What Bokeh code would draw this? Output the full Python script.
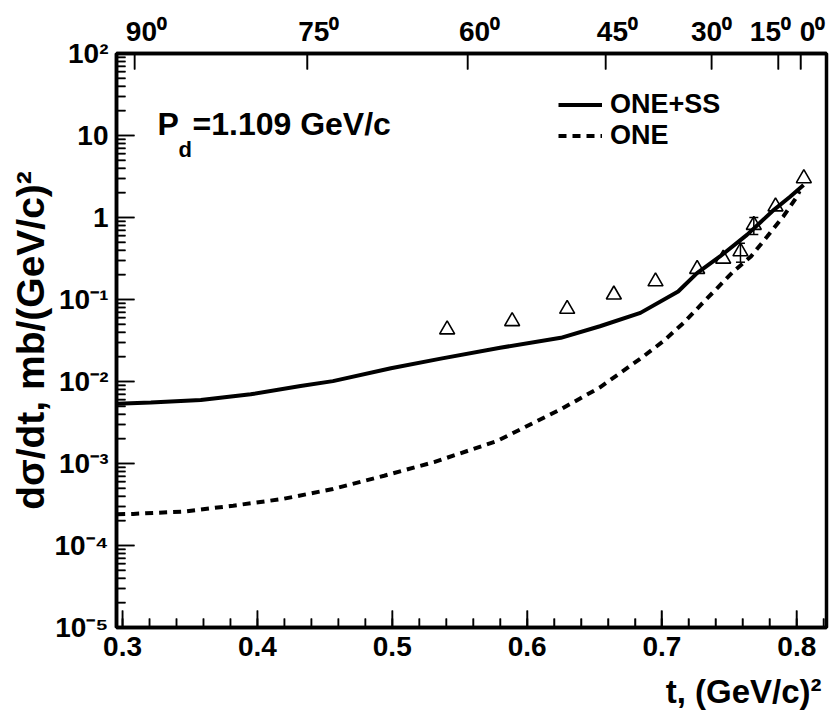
import math
import numpy as np
from bokeh.plotting import figure
from bokeh.models import (ColumnDataSource, FixedTicker, LinearAxis, LogAxis, Label, Legend, Title,
                          LegendItem, Whisker, TeeHead, CustomJSTickFormatter)
from bokeh.embed import file_html
from bokeh.resources import INLINE

# ---------------- data ----------------
t_one_ss = [0.296, 0.321, 0.358, 0.395, 0.432, 0.456, 0.499, 0.536, 0.580, 0.625,
            0.654, 0.684, 0.712, 0.726, 0.743, 0.763, 0.783, 0.795, 0.805]
y_one_ss = [5.35e-3, 5.53e-3, 5.95e-3, 6.98e-3, 8.81e-3, 1.01e-2, 1.45e-2, 1.90e-2, 2.58e-2, 3.41e-2,
            4.72e-2, 6.87e-2, 0.125, 0.210, 0.335, 0.614, 1.24, 1.79, 2.49]

t_one = [0.296, 0.308, 0.345, 0.382, 0.419, 0.456, 0.494, 0.531, 0.578, 0.625, 0.654,
         0.684, 0.701, 0.716, 0.729, 0.741, 0.753, 0.766, 0.778, 0.790, 0.800, 0.802]
y_one = [2.40e-4, 2.43e-4, 2.59e-4, 3.06e-4, 3.70e-4, 4.89e-4, 7.10e-4, 1.04e-3, 1.89e-3, 4.59e-3, 8.49e-3,
         1.90e-2, 3.10e-2, 5.19e-2, 8.67e-2, 0.138, 0.220, 0.335, 0.586, 1.03, 1.79, 2.10]

t_exp = [0.5407, 0.5889, 0.6297, 0.6643, 0.6952, 0.7261, 0.7454, 0.7582, 0.7681, 0.7842, 0.8052]
y_exp = [0.043, 0.0543, 0.0767, 0.1146, 0.166, 0.235, 0.314, 0.385, 0.81, 1.36, 3.0]
e_exp = [0, 0, 0, 0, 0, 0, 0, 0.10, 0.19, 0, 0]

x_ticks = [0.3, 0.4, 0.5, 0.6, 0.7, 0.8]
y_ticks = [1e-5, 1e-4, 1e-3, 1e-2, 1e-1, 1.0, 10.0, 100.0]
y_tick_labels = ["10⁻⁵", "10⁻⁴", "10⁻³", "10⁻²", "10⁻¹", "1", "10", "10²"]
angle_deg = [90, 75, 60, 45, 30, 15, 0]               # top axis: c.m. angle
angle_tick_labels = ["90⁰", "75⁰", "60⁰", "45⁰", "30⁰", "15⁰", "0⁰"]
T_AT_0DEG = 0.803                                     # t at theta = 0
T_SPAN_90 = 0.494                                     # t(0) - t(90)

x_title = "t, (GeV/c)²"
y_title = "dσ/dt, mb/(GeV/c)²"
series_names = ["ONE+SS", "ONE"]

# ---------------- style ----------------
FONT = "Liberation Sans"
X0, X1 = 0.2955, 0.822
Y0, Y1 = 1e-5, 1e2
FL, FR, FT, FB = 116, 4, 53, 92
W, H = 830, 721
FRAME_W, FRAME_H = W - FL - FR, H - FT - FB
DX_PX = (X1 - X0) / FRAME_W                              # data units per pixel (x)
DLOG_PX = (math.log10(Y1) - math.log10(Y0)) / FRAME_H    # decades per pixel (y)
FIG_SP, PUNC_SP = "\u2007", "\u2008"
top_pad = [(FIG_SP + PUNC_SP, ""), (FIG_SP + PUNC_SP, ""), (FIG_SP + PUNC_SP, ""),
           (FIG_SP + PUNC_SP, ""), ("", ""), ("", FIG_SP), (FIG_SP + PUNC_SP, "")]

p = figure(width=W, height=H, x_range=(X0, X1), y_range=(Y0, Y1),
           y_axis_type="log", output_backend="svg", toolbar_location=None,
           min_border_left=FL, min_border_right=FR, min_border_top=FT, min_border_bottom=FB)
p.grid.visible = False
p.outline_line_color = "black"
p.outline_line_width = 3.5
p.background_fill_color = None
p.border_fill_color = None

EMPTY = CustomJSTickFormatter(code="return ''")


def fmt(values, labels):
    return CustomJSTickFormatter(args=dict(tv=values, tl=labels), code="""
        for (let i = 0; i < tv.length; i++) {
            if (Math.abs(tick - tv[i]) <= 1e-6 * Math.abs(tv[i])) return tl[i];
        }
        return "";
    """)


def tick_axis(ax, major_in, minor_in):
    """axis nearest to the frame: inner ticks only"""
    ax.axis_line_width = 3.5
    ax.major_tick_in, ax.major_tick_out = major_in, 0
    ax.minor_tick_in, ax.minor_tick_out = minor_in, 0
    ax.major_tick_line_width = 1.5
    ax.minor_tick_line_width = 1.5
    ax.formatter = EMPTY
    ax.major_label_text_font_size = "1px"
    ax.major_label_text_color = None
    ax.major_label_standoff = 0


def label_axis(ax, standoff, size="28px"):
    """axis that draws only the labels"""
    ax.axis_line_color = None
    ax.major_tick_in = ax.major_tick_out = 0
    ax.minor_tick_in = ax.minor_tick_out = 0
    ax.major_tick_line_color = None
    ax.minor_tick_line_color = None
    ax.major_label_text_font = FONT
    ax.major_label_text_font_style = "bold"
    ax.major_label_text_font_size = size
    ax.major_label_text_color = "black"
    ax.major_label_standoff = standoff


x_minor = list(np.round(np.arange(0.30, 0.8201, 0.02), 3))
y_minor = [m * v for v in y_ticks[:-1] for m in range(2, 10)]
x_ticker = FixedTicker(ticks=x_ticks, minor_ticks=x_minor)
y_ticker = FixedTicker(ticks=y_ticks, minor_ticks=y_minor)
angle_t = [T_AT_0DEG - T_SPAN_90 * (1 - math.cos(math.radians(a))) for a in angle_deg]
a_ticker = FixedTicker(ticks=angle_t, minor_ticks=[])

# tick axes (nearest to the frame)
p.xaxis[0].ticker = x_ticker
tick_axis(p.xaxis[0], 17, 9)
p.yaxis[0].ticker = y_ticker
tick_axis(p.yaxis[0], 18, 9)
ta = LinearAxis(ticker=a_ticker)
tick_axis(ta, 16, 0)
p.add_layout(ta, "above")

# label axes
xl = LinearAxis(ticker=x_ticker)
label_axis(xl, 9)
p.add_layout(xl, "below")
p.add_layout(Title(text=x_title, align="right", offset=5, standoff=24, text_font=FONT,
                   text_font_style="bold", text_font_size="33px", text_color="black"), "below")

yl = LogAxis(ticker=y_ticker, formatter=fmt(y_ticks, y_tick_labels))
label_axis(yl, 8)
yl.axis_label = y_title
yl.axis_label_text_font = FONT
yl.axis_label_text_font_style = "bold"
yl.axis_label_text_font_size = "39px"
yl.axis_label_text_color = "black"
yl.axis_label_standoff = 0
p.add_layout(yl, "left")

top_labels = [pre + lbl + post for lbl, (pre, post) in zip(angle_tick_labels, top_pad)]
tl_ax = LinearAxis(ticker=a_ticker, formatter=fmt(angle_t, top_labels))
label_axis(tl_ax, 7)
p.add_layout(tl_ax, "above")

# inner tick marks, drawn through the scales from the tick lists
tick_style = dict(line_color="black", line_width=1.5)


def left_ticks(vals, length_px):
    p.segment(x0=[X0] * len(vals), y0=vals, x1=[X0 + length_px * DX_PX] * len(vals), y1=vals,
              **tick_style)


def bottom_ticks(vals, length_px):
    p.segment(x0=vals, y0=[Y0] * len(vals), x1=vals, y1=[Y0 * 10 ** (length_px * DLOG_PX)] * len(vals),
              **tick_style)


left_ticks(y_ticks, 18)
left_ticks(y_minor, 9)
bottom_ticks(x_ticks, 17)
bottom_ticks(x_minor, 9)
p.segment(x0=angle_t, y0=[Y1] * len(angle_t), x1=angle_t,
          y1=[Y1 / 10 ** (16 * DLOG_PX)] * len(angle_t), **tick_style)

# ---------------- curves and points ----------------
r_ss = p.line(t_one_ss, y_one_ss, line_color="black", line_width=4)
r_one = p.line(t_one, y_one, line_color="black", line_width=4, line_dash="8 6")

p.scatter(t_exp, y_exp, marker="triangle", size=15, fill_alpha=0,
          line_color="black", line_width=1.6)

eb_t = [t for t, e in zip(t_exp, e_exp) if e > 0]
eb_lo = [y - e for y, e in zip(y_exp, e_exp) if e > 0]
eb_hi = [y + e for y, e in zip(y_exp, e_exp) if e > 0]
src_eb = ColumnDataSource(dict(t=eb_t, lo=eb_lo, hi=eb_hi))
p.add_layout(Whisker(base="t", lower="lo", upper="hi", source=src_eb, dimension="height",
                     line_width=1.5, line_color="black",
                     upper_head=TeeHead(size=9, line_width=1.5, line_color="black"),
                     lower_head=TeeHead(size=9, line_width=1.5, line_color="black")))

# ---------------- legend ----------------
legend = Legend(items=[LegendItem(label=series_names[0], renderers=[r_ss]),
                       LegendItem(label=series_names[1], renderers=[r_one])],
                location=(442, 476), border_line_color=None, background_fill_alpha=0,
                label_text_font=FONT, label_text_font_style="bold", label_text_font_size="27px",
                label_text_color="black",
                glyph_width=44, glyph_height=29, label_height=29, label_standoff=8,
                padding=0, spacing=0, margin=0)
p.add_layout(legend)

# ---------------- momentum label (inside the frame) ----------------
lbl = dict(x_units="screen", y_units="screen", text_font=FONT, text_font_style="bold",
           text_color="black")
p.add_layout(Label(x=41, y=486, text="P", text_font_size="32px", **lbl))
p.add_layout(Label(x=62, y=466, text="d", text_font_size="22px", **lbl))
p.add_layout(Label(x=76, y=486, text="=1.109 GeV/c", text_font_size="32px", **lbl))

open("out.html", "w").write(file_html(p, INLINE))
